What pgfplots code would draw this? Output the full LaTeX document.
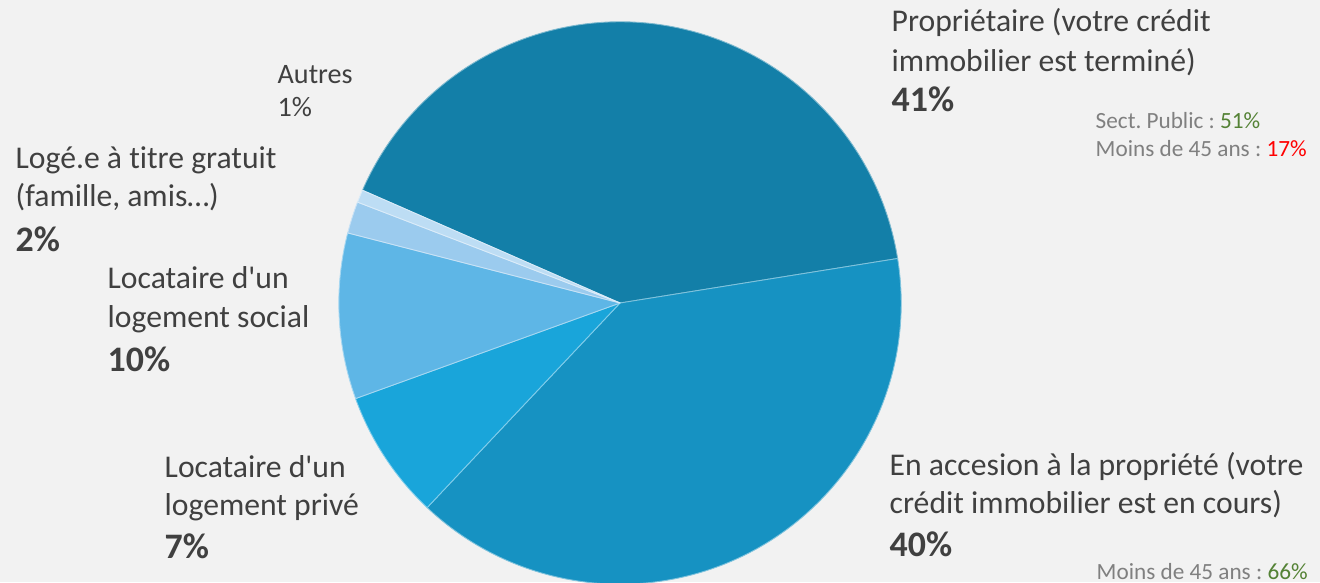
\documentclass[border=0pt]{standalone}
\usepackage{fontspec}
\setmainfont{Carlito}[Ligatures={TeXOff,CommonOff}]
\usepackage{pgfplots}
\usepackage{pgfplotstable}
\pgfplotsset{compat=1.18}
\frenchspacing
\definecolor{bgc}{HTML}{F2F2F2}
\definecolor{txt}{HTML}{404040}
\definecolor{gr}{HTML}{808080}
\definecolor{grn}{HTML}{548235}
\definecolor{rd}{HTML}{FF0000}
\definecolor{c1}{HTML}{137FA8}
\definecolor{c2}{HTML}{1692C2}
\definecolor{c3}{HTML}{19A5DA}
\definecolor{c4}{HTML}{5EB6E6}
\definecolor{c5}{HTML}{9BCBEE}
\definecolor{c6}{HTML}{BDDDF4}
\newcommand{\fmain}{\fontsize{9.0pt}{11pt}\selectfont}
\newcommand{\fpct}{\fontsize{10.2pt}{11pt}\selectfont\bfseries}
\newcommand{\fsmall}{\fontsize{8pt}{10pt}\selectfont}
\newcommand{\ftiny}{\fontsize{6.6pt}{7pt}\selectfont}
\pgfplotstableread{
name value color
Proprietaire 40.90 c1
Accession 39.56 c2
Prive 7.45 c3
Social 9.53 c4
Loge 1.83 c5
Autres 0.73 c6
}\piedata
\begin{document}
\begin{tikzpicture}
\begin{axis}[x=0.01cm, y=0.01cm, xmin=0, xmax=1320, ymin=0, ymax=582,
  hide axis, clip=true]
\fill[bgc] (axis cs:0,0) rectangle (axis cs:1320,582);
\pgfplotstablegetrowsof{\piedata}
\pgfmathtruncatemacro\nrows{\pgfplotsretval-1}
\xdef\angA{156.35}
\pgfplotsforeachungrouped \i in {0,...,\nrows}{%
  \pgfplotstablegetelem{\i}{value}\of\piedata \let\v\pgfplotsretval
  \pgfplotstablegetelem{\i}{color}\of\piedata \let\c\pgfplotsretval
  \pgfmathsetmacro\angB{\angA - 3.6*\v}%
  \edef\temp{\noexpand\fill[\c, draw=white!45!\c, line width=0.25pt] (axis cs:620,279) -- ++(\angA:2.81cm) arc[start angle=\angA, end angle=\angB, radius=2.81cm] -- cycle;}%
  \temp
  \xdef\angA{\angB}%
}
\begin{scope}[every node/.style={inner sep=0pt, anchor=base west, text=txt}]
% Proprietaire
\node[font=\fmain] at (axis cs:891,550.3) {Propriétaire (votre crédit};
\node[font=\fmain] at (axis cs:891,510.3) {immobilier est terminé)};
\node[font=\fpct] at (axis cs:891,470.3) {41\%};
\node[font=\ftiny, text=gr] at (axis cs:1095,453) {Sect. Public : \textcolor{grn}{51\%}};
\node[font=\ftiny, text=gr] at (axis cs:1095,425) {Moins de 45 ans : \textcolor{rd}{17\%}};
% Accession
\node[font=\fmain] at (axis cs:889,107) {En accesion à la propriété (votre};
\node[font=\fmain] at (axis cs:889,69) {crédit immobilier est en cours)};
\node[font=\fpct] at (axis cs:889,26) {40\%};
\node[font=\ftiny, text=gr] at (axis cs:1096,3) {Moins de 45 ans : \textcolor{grn}{66\%}};
% Prive
\node[font=\fmain] at (axis cs:164,105) {Locataire d'un};
\node[font=\fmain] at (axis cs:164,67) {logement privé};
\node[font=\fpct] at (axis cs:164,24) {7\%};
% Social
\node[font=\fmain] at (axis cs:107,293.7) {Locataire d'un};
\node[font=\fmain] at (axis cs:107,254.3) {logement social};
\node[font=\fpct] at (axis cs:107,210.3) {10\%};
% Loge
\node[font=\fmain] at (axis cs:15,413.7) {Logé.e à titre gratuit};
\node[font=\fmain] at (axis cs:15,375.3) {(famille, amis…)};
\node[font=\fpct] at (axis cs:15,330.3) {2\%};
% Autres
\node[font=\fsmall] at (axis cs:277,498.7) {Autres};
\node[font=\fsmall] at (axis cs:277,465.3) {1\%};
\end{scope}
\end{axis}
\end{tikzpicture}
\end{document}
